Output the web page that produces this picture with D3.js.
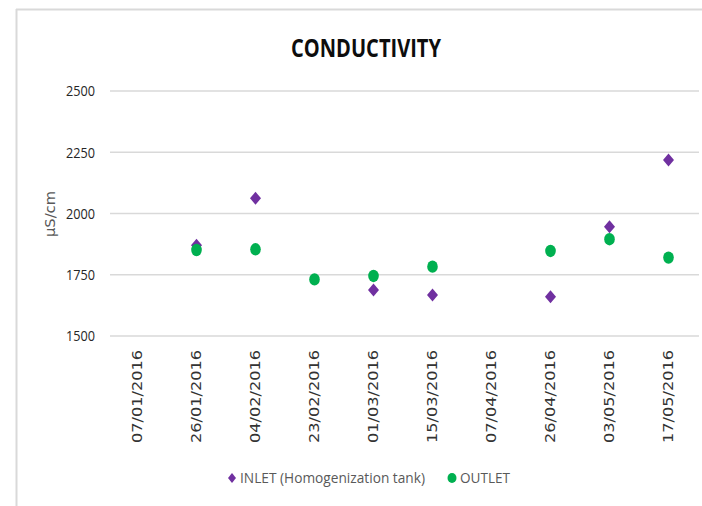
<!DOCTYPE html>
<html><head><meta charset="utf-8">
<script src="https://cdn.jsdelivr.net/npm/d3@7"></script>
<style>body{margin:0;background:#fff}svg{display:block}</style>
</head><body>
<svg id="c" width="702" height="506"></svg>
<script>
const categories = ["07/01/2016","26/01/2016","04/02/2016","23/02/2016","01/03/2016","15/03/2016","07/04/2016","26/04/2016","03/05/2016","17/05/2016"];
const inletValues = [null,1870,2062,null,1688,1667,null,1660,1946,2218];
const outletValues = [null,1851,1854,1731,1745,1783,null,1847,1895,1820];
const yTicks = [1500,1750,2000,2250,2500];
const seriesNames = ["INLET (Homogenization tank)","OUTLET"];
const colors = ["#7030A0","#00B050"];

const svg = d3.select("#c");
// frame
svg.append("line").attr("x1",16.5).attr("x2",16.5).attr("y1",9).attr("y2",506).attr("stroke","#d9d9d9").attr("stroke-width",2);
svg.append("line").attr("x1",16).attr("x2",702).attr("y1",9.5).attr("y2",9.5).attr("stroke","#d9d9d9").attr("stroke-width",2);

const x = d3.scaleBand().domain(categories).range([108,698]);
const y = d3.scaleLinear().domain([1500,2500]).range([336,91]);

// gridlines
svg.append("g").selectAll("line").data(yTicks).join("line")
  .attr("x1",110).attr("x2",699).attr("y1",d=>y(d)).attr("y2",d=>y(d))
  .attr("stroke","#d9d9d9").attr("stroke-width",1.5);

// y axis labels
const yAxis = d3.axisLeft(y).tickValues(yTicks).tickFormat(d3.format("d")).tickSize(0).tickPadding(0);
const gy = svg.append("g").attr("transform","translate(95,0)").call(yAxis);
gy.select(".domain").remove();
gy.selectAll("text").attr("font-family","'Open Sans',sans-serif")
  .attr("font-size",14).attr("fill","#262626").attr("dy","0.35em")
  .attr("textLength",29).attr("lengthAdjust","spacingAndGlyphs");

// x axis labels
const xAxis = d3.axisBottom(x).tickSize(0).tickPadding(0);
const gx = svg.append("g").attr("transform","translate(0,350)").call(xAxis);
gx.select(".domain").remove();
gx.selectAll("text")
  .attr("font-family","'DejaVu Sans',sans-serif").attr("font-size",13.5).attr("fill","#333333")
  .attr("text-anchor","end").attr("transform","rotate(-90)")
  .attr("x",0).attr("y",0).attr("dx",0).attr("dy","0.35em")
  .attr("textLength",93).attr("lengthAdjust","spacingAndGlyphs");

// title
svg.append("text").attr("x",366).attr("y",57).attr("text-anchor","middle")
  .attr("font-family","'Open Sans',sans-serif").attr("font-weight","bold").attr("font-size",25)
  .attr("fill","#0d0d0d").attr("textLength",150).attr("lengthAdjust","spacingAndGlyphs").text("CONDUCTIVITY");

// y title
svg.append("text").attr("transform","translate(55,214) rotate(-90)").attr("text-anchor","middle")
  .attr("font-family","'DejaVu Sans',sans-serif").attr("font-size",14).attr("fill","#595959")
  .attr("textLength",46).attr("lengthAdjust","spacingAndGlyphs").text("µS/cm");

const diamond = (w,h)=>`M0,${-h}L${w},0L0,${h}L${-w},0Z`;
// inlet
svg.append("g").selectAll("path").data(categories.map((c,i)=>({c,v:inletValues[i]})).filter(d=>d.v!=null))
  .join("path").attr("d",diamond(5.5,6.5))
  .attr("transform",d=>`translate(${x(d.c)+x.bandwidth()/2},${y(d.v)})`).attr("fill",colors[0]);
// outlet
svg.append("g").selectAll("ellipse").data(categories.map((c,i)=>({c,v:outletValues[i]})).filter(d=>d.v!=null))
  .join("ellipse").attr("cx",d=>x(d.c)+x.bandwidth()/2).attr("cy",d=>y(d.v)).attr("rx",5.3).attr("ry",6.2).attr("fill",colors[1]);

// legend
const lg = svg.append("g");
lg.append("path").attr("d",diamond(4,5)).attr("transform","translate(232,478)").attr("fill",colors[0]);
lg.append("text").attr("x",240).attr("y",483).attr("font-family","'Open Sans',sans-serif").attr("font-size",14)
  .attr("fill","#595959").attr("textLength",185).attr("lengthAdjust","spacingAndGlyphs").text(seriesNames[0]);
lg.append("ellipse").attr("cx",452).attr("cy",478).attr("rx",4.5).attr("ry",5).attr("fill",colors[1]);
lg.append("text").attr("x",460).attr("y",483).attr("font-family","'Open Sans',sans-serif").attr("font-size",14)
  .attr("fill","#595959").attr("textLength",50).attr("lengthAdjust","spacingAndGlyphs").text(seriesNames[1]);
</script>
</body></html>
